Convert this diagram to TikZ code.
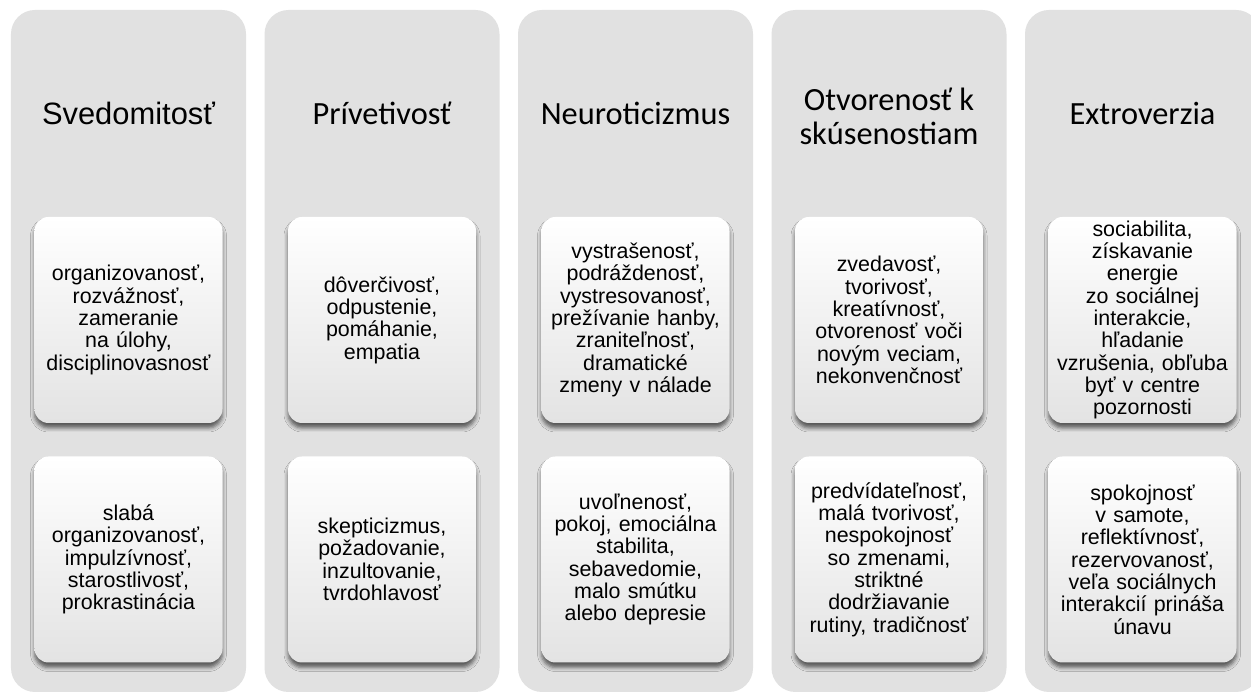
\documentclass[tikz,border=0pt]{standalone}
\usepackage{fontspec}
\setmainfont{Liberation Sans}
\newfontfamily\calibri{Carlito}
\usetikzlibrary{shadows.blur}
\definecolor{colgray}{HTML}{E1E1E1}
\tikzset{
  column/.style={fill=colgray, rounded corners=24bp, minimum width=235bp,
    minimum height=682bp, inner sep=0pt},
  head/.style={align=center, font=\fontsize{31}{34}\selectfont},
  headc/.style={align=center, font=\calibri\fontsize{32.5}{34}\selectfont},
  trait/.style={rounded corners=14bp, minimum width=188bp, minimum height=206bp,
    text width=186bp, align=center, inner sep=0pt,
    top color=white, middle color=white, bottom color=black!11,
    blur shadow={shadow xshift=0bp, shadow yshift=-5bp, shadow blur radius=4bp,
      shadow opacity=60},
    font=\fontsize{21.5}{22.4}\selectfont}
}
\begin{document}
\begin{tikzpicture}[x=1bp,y=1bp]
  \clip (0,0) rectangle (1251,693);
  \fill[white] (0,0) rectangle (1251,693);
  \node (col1) [column] at (128.5,342) {};
  \node (col2) [column, right of=col1, node distance=253.5bp] {};
  \node (col3) [column, right of=col2, node distance=253.5bp] {};
  \node (col4) [column, right of=col3, node distance=253.5bp] {};
  \node (col5) [column, right of=col4, node distance=253.5bp] {};
  % headers
  \node (h1) [head, above of=col1, node distance=238bp] {Svedomitosť};
  \node (h2) [headc, above of=col2, node distance=238bp] {Prívetivosť};
  \node (h3) [headc, above of=col3, node distance=238bp] {Neuroticizmus};
  \node (h4) [headc, above of=col4, node distance=235bp] {Otvorenosť k\\skúsenostiam};
  \node (h5) [headc, above of=col5, node distance=238bp] {Extroverzia};
  % traits
  \node (t1) [trait, above of=col1, node distance=31bp] {organizovanosť,\\rozvážnosť,\\zameranie\\na úlohy,\\disciplinovasnosť};
  \node (b1) [trait, below of=col1, node distance=208.5bp] {slabá\\organizovanosť,\\impulzívnosť,\\starostlivosť,\\prokrastinácia};
  \node (t2) [trait, above of=col2, node distance=31bp] {dôverčivosť,\\odpustenie,\\pomáhanie,\\empatia};
  \node (b2) [trait, below of=col2, node distance=208.5bp] {skepticizmus,\\požadovanie,\\inzultovanie,\\tvrdohlavosť};
  \node (t3) [trait, above of=col3, node distance=31bp] {vystrašenosť,\\podráždenosť,\\vystresovanosť,\\prežívanie hanby,\\zraniteľnosť,\\dramatické\\zmeny v nálade};
  \node (b3) [trait, below of=col3, node distance=208.5bp] {uvoľnenosť,\\pokoj, emociálna\\stabilita,\\sebavedomie,\\malo smútku\\alebo depresie};
  \node (t4) [trait, above of=col4, node distance=31bp] {zvedavosť,\\tvorivosť,\\kreatívnosť,\\otvorenosť voči\\novým veciam,\\nekonvenčnosť};
  \node (b4) [trait, below of=col4, node distance=208.5bp] {predvídateľnosť,\\malá tvorivosť,\\nespokojnosť\\so zmenami,\\striktné\\dodržiavanie\\rutiny, tradičnosť};
  \node (t5) [trait, above of=col5, node distance=31bp] {sociabilita,\\získavanie\\energie\\zo sociálnej\\interakcie,\\hľadanie\\vzrušenia, obľuba\\byť v centre\\pozornosti};
  \node (b5) [trait, below of=col5, node distance=208.5bp] {spokojnosť\\v samote,\\reflektívnosť,\\rezervovanosť,\\veľa sociálnych\\interakcií prináša\\únavu};
\end{tikzpicture}
\end{document}
